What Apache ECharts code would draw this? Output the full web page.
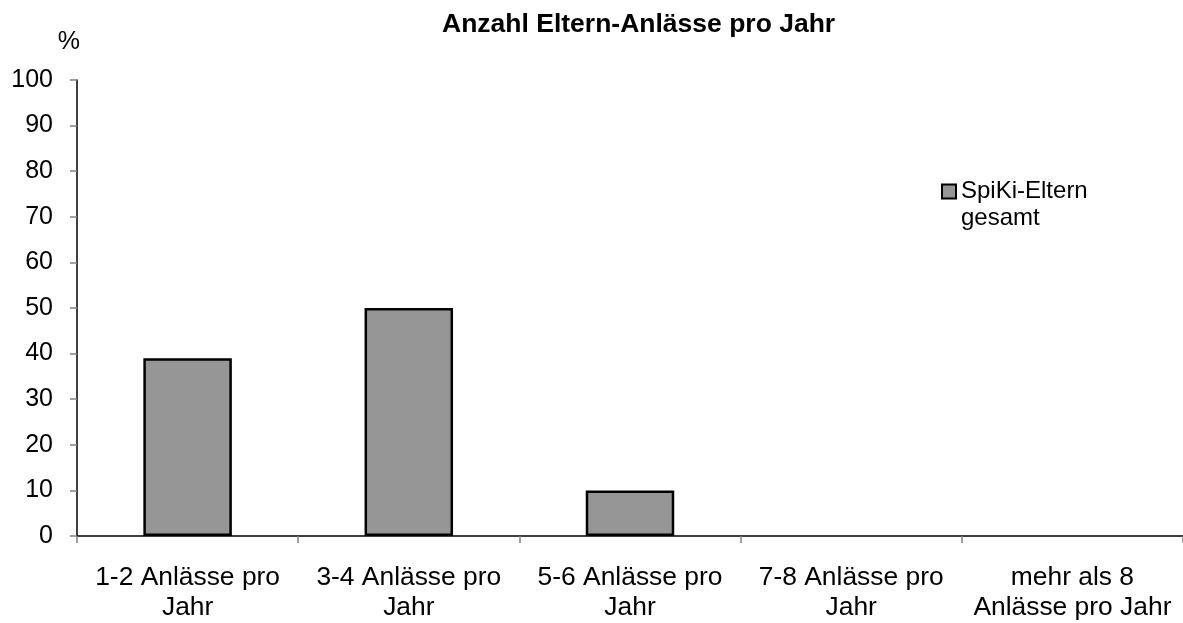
<!DOCTYPE html>
<html><head><meta charset="utf-8">
<script src="https://cdn.jsdelivr.net/npm/echarts@6/dist/echarts.min.js"></script>
<style>html,body{margin:0;padding:0;background:#fff}#c{width:1183px;height:623px}</style>
</head><body><div id="c"></div>
<script>
const categories = ['1-2 Anlässe pro\nJahr', '3-4 Anlässe pro\nJahr', '5-6 Anlässe pro\nJahr', '7-8 Anlässe pro\nJahr', 'mehr als 8\nAnlässe pro Jahr'];
const seriesName = 'SpiKi-Eltern gesamt';
const values = [39, 50, 10, 0, 0];
const yTicks = [0, 10, 20, 30, 40, 50, 60, 70, 80, 90, 100];

const FONT = '"Liberation Sans", Arial, sans-serif';
const chart = echarts.init(document.getElementById('c'), null, {renderer: 'canvas'});
chart.setOption({
  animation: false,
  backgroundColor: '#fff',
  title: {
    text: 'Anzahl Eltern-Anlässe pro Jahr',
    left: 442, top: 11,
    padding: 0,
    textStyle: {fontFamily: FONT, fontSize: 26.5, fontWeight: 'bold', color: '#000'}
  },
  legend: {
    left: 941, top: 151, padding: 0,
    orient: 'vertical',
    itemWidth: 14, itemHeight: 14, itemGap: 4,
    icon: 'rect',
    formatter: () => '\nSpiKi-Eltern\ngesamt',
    textStyle: {fontFamily: FONT, fontSize: 24, color: '#000', lineHeight: 27},
    itemStyle: {borderColor: '#000', borderWidth: 2}
  },
  grid: {left: 77, right: -8, top: 80, bottom: 86, containLabel: false},
  xAxis: {
    type: 'category',
    data: categories,
    axisLine: {lineStyle: {color: '#000', width: 1.5}},
    axisTick: {show: true, length: 7, lineStyle: {color: '#808080', width: 1.5}},
    axisLabel: {fontFamily: FONT, fontSize: 26.4, color: '#000', lineHeight: 30, margin: 27, interval: 0}
  },
  yAxis: {
    type: 'value',
    min: 0, max: 100, interval: 10,
    name: '%',
    nameLocation: 'end',
    nameGap: 25,
    nameTextStyle: {fontFamily: FONT, fontSize: 25, color: '#000', align: 'right', padding: [0, -3, 0, 0]},
    axisLine: {show: true, lineStyle: {color: '#000', width: 1.5}},
    axisTick: {show: true, length: 7, lineStyle: {color: '#808080', width: 1.5}},
    axisLabel: {fontFamily: FONT, fontSize: 25, color: '#000', margin: 24,
      formatter: v => yTicks.includes(v) ? String(v) : ''},
    splitLine: {show: false}
  },
  series: [{
    name: seriesName,
    type: 'bar',
    data: values.map(v => v === 0 ? {value: v, itemStyle: {borderWidth: 0}} : v),
    barWidth: '40%',
    itemStyle: {color: '#969696', borderColor: '#000', borderWidth: 2.5}
  }]
});
</script></body></html>
